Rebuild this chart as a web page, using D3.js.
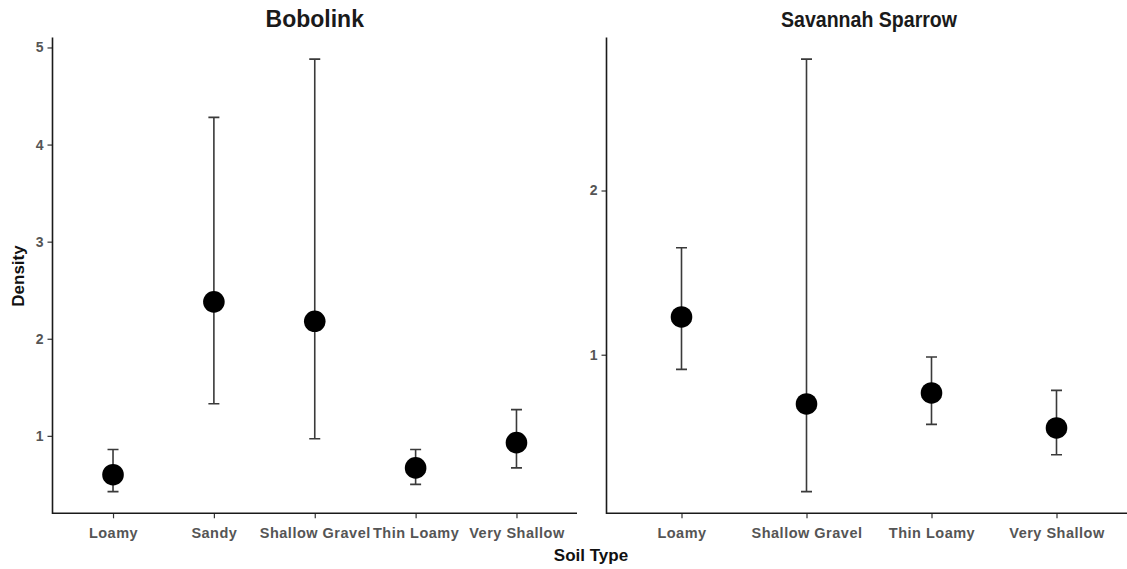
<!DOCTYPE html>
<html>
<head>
<meta charset="utf-8">
<script src="https://cdn.jsdelivr.net/npm/d3@7"></script>
<style>
  html, body { margin: 0; padding: 0; background: #fff; }
  svg { display: block; font-family: "Liberation Sans", Arial, sans-serif; }
</style>
</head>
<body>
<svg id="chart" width="1127" height="569"></svg>
<script>
// Bobolink density estimates by soil type (mean with lower/upper interval)
const bobolinkSoil  = ["Loamy", "Sandy", "Shallow Gravel", "Thin Loamy", "Very Shallow"];
const bobolinkMean  = [0.60, 2.38, 2.18, 0.67, 0.93];
const bobolinkLower = [0.425, 1.33, 0.97, 0.50, 0.67];
const bobolinkUpper = [0.86, 4.28, 4.88, 0.86, 1.27];
const bobolinkTicks = [1, 2, 3, 4, 5];

// Savannah Sparrow density estimates by soil type
const sparrowSoil  = ["Loamy", "Shallow Gravel", "Thin Loamy", "Very Shallow"];
const sparrowMean  = [1.23, 0.70, 0.767, 0.554];
const sparrowLower = [0.911, 0.166, 0.576, 0.391];
const sparrowUpper = [1.651, 2.80, 0.986, 0.783];
const sparrowTicks = [1, 2];

const svg = d3.select("#chart");
const plotTop = 37.5, plotBottom = 513.3;

function panel(opts) {
  const { title, titleSize, titleWidth, soil, mean, lower, upper, ticks, x0, x1 } = opts;
  const rows = soil.map((s, i) => ({ soil: s, mean: mean[i], lower: lower[i], upper: upper[i] }));

  // continuous axis with 5% padding on each side of the data range
  const lo = d3.min(lower), hi = d3.max(upper), pad = (hi - lo) * 0.05;
  const y = d3.scaleLinear().domain([lo - pad, hi + pad]).range([plotBottom, plotTop]);
  const x = d3.scalePoint().domain(soil).range([x0, x1]).padding(0.6);

  const g = svg.append("g");

  // y axis
  const yAxis = g.append("g")
    .attr("transform", `translate(${x0},0)`)
    .call(d3.axisLeft(y).tickValues(ticks).tickFormat(d3.format("d")).tickSizeOuter(0).tickSize(5).tickPadding(4));
  yAxis.select(".domain").remove();
  yAxis.selectAll(".tick line").attr("stroke", "#333").attr("stroke-width", 1.2);
  yAxis.selectAll(".tick text").attr("fill", "#555").attr("font-size", 14).attr("font-weight", "bold");

  // x axis
  const xAxis = g.append("g")
    .attr("transform", `translate(0,${plotBottom})`)
    .call(d3.axisBottom(x).tickSizeOuter(0).tickSize(5).tickPadding(9));
  xAxis.select(".domain").remove();
  xAxis.selectAll(".tick line").attr("stroke", "#333").attr("stroke-width", 1.2);
  xAxis.selectAll(".tick text").attr("fill", "#555").attr("font-size", 14.5).attr("font-weight", "bold")
    .attr("letter-spacing", "0.5px");

  // panel border lines (left and bottom)
  g.append("path")
    .attr("d", `M${x0},${plotTop}V${plotBottom}H${x1}`)
    .attr("fill", "none").attr("stroke", "#1a1a1a").attr("stroke-width", 1.6);

  // interval bars
  const capHalf = 5.5;
  const bars = g.append("g").attr("stroke", "#3a3a3a").attr("stroke-width", 1.6).attr("fill", "none");
  bars.selectAll("path").data(rows).join("path")
    .attr("d", d => {
      const cx = x(d.soil), yu = y(d.upper), yl = y(d.lower);
      return `M${cx - capHalf},${yu}H${cx + capHalf}M${cx},${yu}V${yl}M${cx - capHalf},${yl}H${cx + capHalf}`;
    });

  // estimate points
  g.append("g").selectAll("circle").data(rows).join("circle")
    .attr("cx", d => x(d.soil)).attr("cy", d => y(d.mean))
    .attr("r", 10.8).attr("fill", "#000");

  // panel title
  const t = g.append("text")
    .attr("x", (x0 + x1) / 2).attr("y", 27)
    .attr("text-anchor", "middle")
    .attr("font-size", titleSize).attr("font-weight", "bold").attr("fill", "#1a1a1a")
    .text(title);
  if (titleWidth) t.attr("textLength", titleWidth).attr("lengthAdjust", "spacingAndGlyphs");
}

panel({ title: "Bobolink", titleSize: 23, soil: bobolinkSoil, mean: bobolinkMean, lower: bobolinkLower,
        upper: bobolinkUpper, ticks: bobolinkTicks, x0: 52.5, x1: 577 });
panel({ title: "Savannah Sparrow", titleSize: 21.5, titleWidth: 176, soil: sparrowSoil, mean: sparrowMean,
        lower: sparrowLower, upper: sparrowUpper, ticks: sparrowTicks, x0: 606.5, x1: 1131.5 });

// shared axis titles
svg.append("text")
  .attr("x", 591).attr("y", 561)
  .attr("text-anchor", "middle").attr("font-size", 17).attr("font-weight", "bold").attr("fill", "#111")
  .text("Soil Type");

svg.append("text")
  .attr("transform", "translate(24,276) rotate(-90)")
  .attr("text-anchor", "middle").attr("font-size", 17).attr("font-weight", "bold").attr("fill", "#111")
  .text("Density");
</script>
</body>
</html>
